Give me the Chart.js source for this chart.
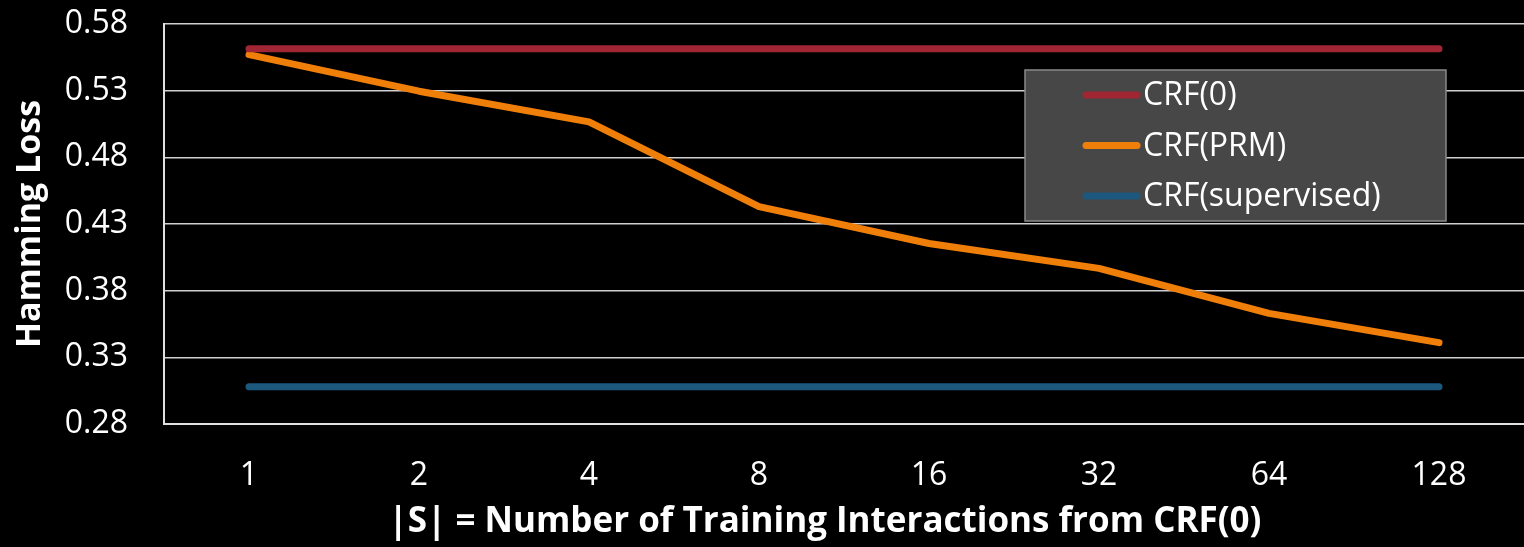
<!DOCTYPE html>
<html>
<head>
<meta charset="utf-8">
<script src="https://cdn.jsdelivr.net/npm/chart.js@4"></script>
<style>
  html, body { margin: 0; padding: 0; background: #000; }
  #wrap { width: 1524px; height: 547px; position: relative; }
</style>
</head>
<body>
<div id="wrap"><canvas id="c" width="1524" height="547"></canvas></div>
<script>
const categories = ['1', '2', '4', '8', '16', '32', '64', '128'];
const crf0 = [0.5615, 0.5615, 0.5615, 0.5615, 0.5615, 0.5615, 0.5615, 0.5615];
const crfPrm = [0.557, 0.5296, 0.5066, 0.443, 0.4154, 0.3967, 0.363, 0.341];
const crfSupervised = [0.308, 0.308, 0.308, 0.308, 0.308, 0.308, 0.308, 0.308];
const yTicks = [0.28, 0.33, 0.38, 0.43, 0.48, 0.53, 0.58];
const seriesNames = ['CRF(0)', 'CRF(PRM)', 'CRF(supervised)'];
const xTitle = '|S| = Number of Training Interactions from CRF(0)';

const FONT = "'Open Sans', 'DejaVu Sans', sans-serif";

const legendPlugin = {
  id: 'boxLegend',
  afterDatasetsDraw(chart) {
    const ctx = chart.ctx;
    const ca = chart.chartArea;
    const bx = ca.right - 499, by = ca.top + 46, bw = 421, bh = 151;
    ctx.save();
    ctx.fillStyle = '#474747';
    ctx.fillRect(bx, by, bw, bh);
    ctx.strokeStyle = '#8a8a8a';
    ctx.lineWidth = 1.5;
    ctx.strokeRect(bx, by, bw, bh);
    ctx.font = "32px " + FONT;
    ctx.textBaseline = 'middle';
    ctx.textAlign = 'left';
    chart.data.datasets.forEach((ds, i) => {
      const y = by + 25 + i * 50.5;
      ctx.strokeStyle = ds.borderColor;
      ctx.lineWidth = 7;
      ctx.lineCap = 'round';
      ctx.beginPath();
      ctx.moveTo(bx + 61, y);
      ctx.lineTo(bx + 112, y);
      ctx.stroke();
      ctx.fillStyle = '#ffffff';
      ctx.fillText(ds.label, bx + 118, y + 1);
    });
    // x-axis title (slightly left of centre as in the original)
    ctx.font = "bold 35px " + FONT;
    ctx.textAlign = 'center';
    ctx.fillStyle = '#ffffff';
    ctx.fillText(xTitle, (ca.left + ca.right) / 2 - 19, chart.height - 25);
    ctx.restore();
  }
};

const mk = (label, data, color) => ({
  label, data,
  borderColor: color,
  backgroundColor: color,
  borderWidth: 7,
  borderCapStyle: 'round',
  borderJoinStyle: 'round',
  pointRadius: 0,
  pointHoverRadius: 0,
  tension: 0,
  fill: false
});

new Chart(document.getElementById('c'), {
  type: 'line',
  data: {
    labels: categories,
    datasets: [
      mk(seriesNames[0], crf0, '#A12633'),
      mk(seriesNames[1], crfPrm, '#F07F09'),
      mk(seriesNames[2], crfSupervised, '#1C587D')
    ]
  },
  options: {
    responsive: false,
    animation: false,
    events: [],
    layout: { padding: { top: 24, right: -4, left: 0, bottom: 0 } },
    plugins: {
      legend: { display: false },
      tooltip: { enabled: false }
    },
    scales: {
      x: {
        offset: true,
        grid: { display: false, drawTicks: false },
        border: { display: true, color: '#e0e0e0', width: 2 },
        ticks: { color: '#ffffff', font: { family: FONT, size: 32 }, padding: 33, maxRotation: 0 },
        title: { display: false },
        afterFit(s) { s.height = 123; }
      },
      y: {
        min: 0.28,
        max: 0.58,
        afterBuildTicks(s) { s.ticks = yTicks.map(v => ({ value: v })); },
        grid: { color: '#d0d0d0', lineWidth: 1.5, drawTicks: true, tickLength: 36, tickColor: 'rgba(0,0,0,0)' },
        border: { display: true, color: '#e0e0e0', width: 2 },
        ticks: {
          color: '#ffffff',
          font: { family: FONT, size: 32 },
          padding: 0,
          callback: v => v.toFixed(2)
        },
        title: {
          display: true,
          text: 'Hamming Loss',
          color: '#ffffff',
          font: { family: FONT, size: 34, weight: 'bold' },
          padding: { top: 10, bottom: 0 }
        },
        afterFit(s) { s.width = 164; }
      }
    }
  },
  plugins: [legendPlugin]
});
</script>
</body>
</html>
